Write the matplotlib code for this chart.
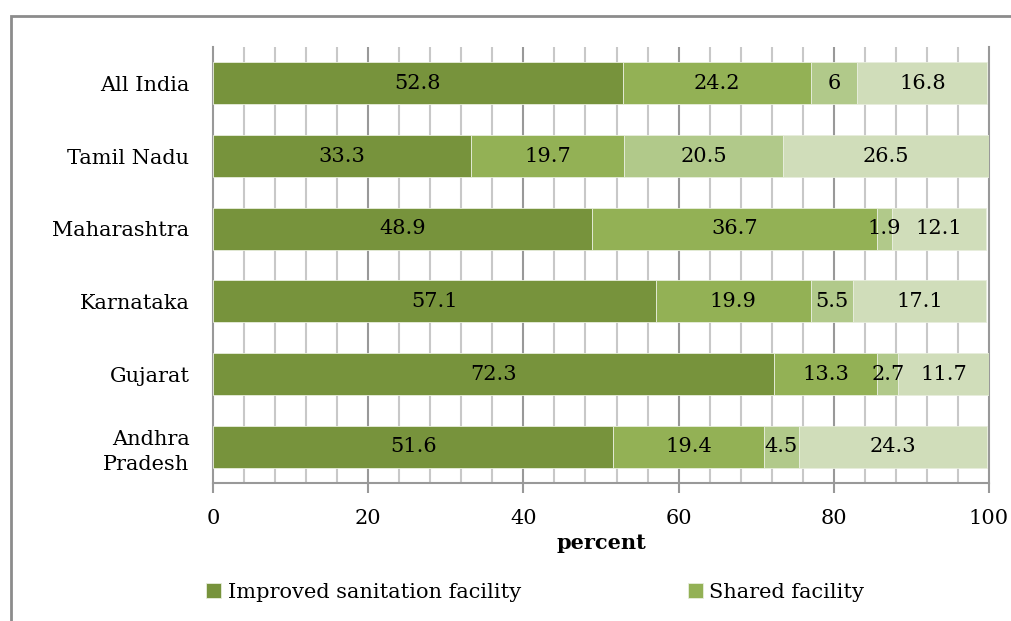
import numpy as np
import matplotlib
matplotlib.use("Agg")
import matplotlib.pyplot as plt
from matplotlib.patches import Rectangle

states = ["All India", "Tamil Nadu", "Maharashtra", "Karnataka", "Gujarat", "Andhra\nPradesh"]
improved = [52.8, 33.3, 48.9, 57.1, 72.3, 51.6]
shared = [24.2, 19.7, 36.7, 19.9, 13.3, 19.4]
unimproved = [6, 20.5, 1.9, 5.5, 2.7, 4.5]
open_def = [16.8, 26.5, 12.1, 17.1, 11.7, 24.3]

series = [improved, shared, unimproved, open_def]
labels = ["Improved sanitation facility", "Shared facility", None, None]
colors = ["#77933C", "#93B155", "#B1C98A", "#D0DDBA"]

plt.rcParams['font.family'] = ['DejaVu Serif']
fs = 15

fig = plt.figure(figsize=(10.12, 6.21), dpi=100)
ax = fig.add_axes([213 / 1012, 1 - 483 / 621, (989 - 213) / 1012, (483 - 47) / 621])

# frame around the chart (cut off right and bottom like the original)
fig.patches.append(Rectangle((11 / 1012, -0.1), 1.2, 1 - 16 / 621 + 0.1,
                             transform=fig.transFigure, fill=False,
                             edgecolor="#8C8C8C", linewidth=2, zorder=0))

y = np.arange(len(states))
left = np.zeros(len(states))
handles = []
for vals, lab, col in zip(series, labels, colors):
    vals = np.array(vals, dtype=float)
    b = ax.barh(y, vals, left=left, height=0.58, color=col,
                edgecolor="#E8EEDD", linewidth=0.6, zorder=3)
    if lab:
        handles.append((b, lab))
    for yi, l, v in zip(y, left, vals):
        ax.text(l + v / 2, yi, f"{v:g}", ha="center", va="center",
                fontsize=fs, color="black", zorder=4)
    left += vals

ax.set_xlim(0, 100)
ax.set_ylim(len(states) - 0.5, -0.5)
ax.set_yticks(y)
ax.set_yticklabels(states, fontsize=fs, linespacing=1.45)
ax.set_xticks(np.arange(0, 101, 20))
ax.set_xticklabels([str(v) for v in range(0, 101, 20)], fontsize=fs)
ax.set_xlabel("percent", fontsize=fs, fontweight="bold", labelpad=3)

for xv in np.arange(4, 100, 4):
    major = xv % 20 == 0
    ax.axvline(xv, color="#999999" if major else "#C8C8C8",
               linewidth=1.5, zorder=1)

ax.spines["top"].set_visible(False)
for s in ["right", "left", "bottom"]:
    ax.spines[s].set_color("#999999")
    ax.spines[s].set_linewidth(1.5)
ax.tick_params(axis="y", length=0, pad=17)
ax.tick_params(axis="x", length=7, width=1.5, color="#999999", pad=12)

fig.legend([h for h, _ in handles], [l for _, l in handles],
           loc="center left", bbox_to_anchor=(187 / 1012, 1 - 592 / 621),
           ncol=2, frameon=False, fontsize=fs, handlelength=0.75,
           handleheight=0.75, handletextpad=0.3, columnspacing=8.0)

fig.savefig("out.png", dpi=100)
